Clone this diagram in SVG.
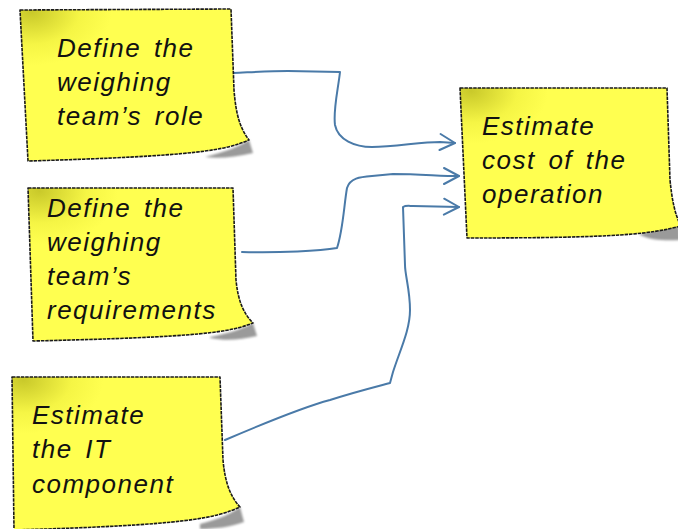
<svg xmlns="http://www.w3.org/2000/svg" width="678" height="529" viewBox="0 0 678 529">
<style>
.note{fill:url(#ng);stroke:#1a1a1a;stroke-width:1.6;stroke-dasharray:3.5 0.9;stroke-linejoin:round}
.shadow{fill:#9a9a9a;filter:url(#blur)}
.t{font-family:"Liberation Sans",Arial,sans-serif;font-style:italic;font-size:26px;fill:#111;letter-spacing:1.5px;word-spacing:4px}
.c{fill:none;stroke:#4a7aa8;stroke-width:2;stroke-linecap:round;stroke-linejoin:round;marker-end:url(#arr)}
</style>
<defs>
<radialGradient id="ng" cx="0.05" cy="0.02" r="0.35" gradientUnits="objectBoundingBox">
<stop offset="0" stop-color="#c9c92a"/>
<stop offset="0.6" stop-color="#f5f545"/>
<stop offset="1" stop-color="#ffff50"/>
</radialGradient>
<filter id="blur" x="-20%" y="-20%" width="140%" height="140%"><feGaussianBlur stdDeviation="1.2"/></filter>
<marker id="arr" viewBox="0 0 20 20" refX="17" refY="10" markerWidth="20" markerHeight="20" markerUnits="userSpaceOnUse" orient="auto">
<path d="M2,2 L17,10 L2,18" fill="none" stroke="#4a7aa8" stroke-width="2" stroke-linecap="round" stroke-linejoin="round"/>
</marker>
</defs>

<g id="connectors">
<path class="c" d="M233,73 C255,72 270,71 288,71 L340,72 C338,90 333,110 335,125 C338,140 355,147 372,147 C395,147 420,142 440,142 L455,143"/>
<path class="c" d="M242,252 C280,253 320,251 337,248 C343,230 344,205 347,188 C350,178 360,177 372,176 L393,174 C420,174 440,176 459,176"/>
<path class="c" d="M225,440 C260,425 300,408 330,400 C355,392 375,387 390,383 L393,372 C400,350 410,330 410,310 C410,290 405,275 405,265 L403,207 C406,205 410,206 413,206 L459,207"/>
</g>

<g id="n1">
<path class="shadow" d="M205,157 C225,152 240,146 249,140 L253,153 C235,157 220,159 205,157 Z"/>
<path class="note" d="M20,10 L231,9 L234,90 C236,115 240,128 249,140 C225,150 200,156 28,161 Z"/>
<text class="t" x="57" y="57">Define the</text>
<text class="t" x="57" y="91">weighing</text>
<text class="t" x="57" y="125">team’s role</text>
</g>

<g id="n2">
<path class="shadow" d="M210,337 C230,333 245,328 253,323 L257,336 C240,340 225,341 210,338 Z"/>
<path class="note" d="M28,188 L233,188 L236,280 C238,300 243,313 253,323 C230,332 205,337 33,341 Z"/>
<text class="t" x="47" y="217">Define the</text>
<text class="t" x="47" y="251">weighing</text>
<text class="t" x="47" y="285">team’s</text>
<text class="t" x="47" y="319">requirements</text>
</g>

<g id="n3">
<path class="shadow" d="M200,524 C220,519 232,513 240,507 L244,522 C230,527 215,529 200,529 Z"/>
<path class="note" d="M12,377 L220,377 L223,460 C225,482 230,496 240,507 C215,518 190,525 14,530 Z"/>
<text class="t" x="32" y="424">Estimate</text>
<text class="t" x="32" y="458">the IT</text>
<text class="t" x="32" y="493">component</text>
</g>

<g id="n4">
<path class="shadow" d="M640,234 C655,231 668,228 679,224 L680,240 C665,241 650,240 640,235 Z"/>
<path class="note" d="M460,88 L667,88 L670,180 C672,200 675,215 681,226 C650,234 620,238 467,238 Z"/>
<text class="t" x="482" y="135">Estimate</text>
<text class="t" x="482" y="169">cost of the</text>
<text class="t" x="482" y="203">operation</text>
</g>
</svg>
